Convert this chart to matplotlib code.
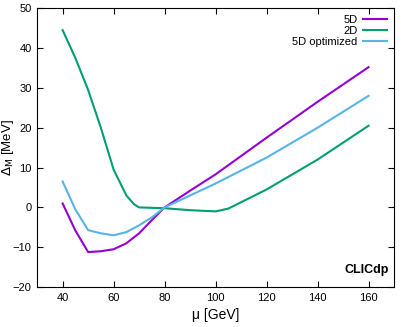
import numpy as np
import matplotlib.pyplot as plt

plt.rcParams['font.family'] = ['Liberation Sans', 'DejaVu Sans']

# masses in GeV
mu_5d = [40, 45, 50, 55, 60, 65, 70, 75, 80, 90, 100, 120, 140, 160]
d_5d = [1.0, -5.8, -11.2, -11.0, -10.5, -9.0, -6.5, -3.2, 0.0, 4.2, 8.3, 17.5, 26.5, 35.2]

mu_2d = [40, 45, 50, 55, 60, 65, 68, 70, 80, 90, 100, 105, 120, 140, 160]
d_2d = [44.5, 37.5, 29.5, 20.0, 9.5, 3.0, 0.8, 0.0, -0.2, -0.7, -1.0, -0.3, 4.5, 12.0, 20.5]

mu_opt = [40, 45, 50, 55, 60, 65, 70, 75, 80, 90, 100, 120, 140, 160]
d_opt = [6.5, -0.5, -5.7, -6.5, -7.0, -6.2, -4.5, -2.5, 0.0, 3.0, 6.0, 12.5, 20.0, 28.0]

fig = plt.figure(figsize=(4.17, 3.27), dpi=100)
ax = fig.add_axes([0.089, 0.122, 0.856, 0.853])

ax.plot(mu_5d, d_5d, color='#9400d3', lw=1.5, label='5D')
ax.plot(mu_2d, d_2d, color='#009e73', lw=1.5, label='2D')
ax.plot(mu_opt, d_opt, color='#56b4e9', lw=1.5, label='5D optimized')

ax.set_xlim(30, 170)
ax.set_ylim(-20, 50)
ax.set_xticks(range(40, 161, 20))
ax.set_yticks(range(-20, 51, 10))
ax.tick_params(direction='in', top=True, right=True, labelsize=8, length=4, pad=4)
ax.set_xlabel('μ [GeV]', fontsize=10)
ax.set_ylabel(r'$\Delta_\mathrm{M}$ [MeV]', fontsize=9.5)
ax.yaxis.set_label_coords(-0.06, 0.5)

ax.legend(loc='upper right', frameon=False, markerfirst=False, fontsize=8,
          handlelength=2.2, borderaxespad=0.2, labelspacing=0.1, handletextpad=0.5)
ax.text(0.985, 0.04, 'CLICdp', transform=ax.transAxes, ha='right', va='bottom',
        fontsize=9, fontweight='bold')

fig.savefig('out.png', dpi=100)
